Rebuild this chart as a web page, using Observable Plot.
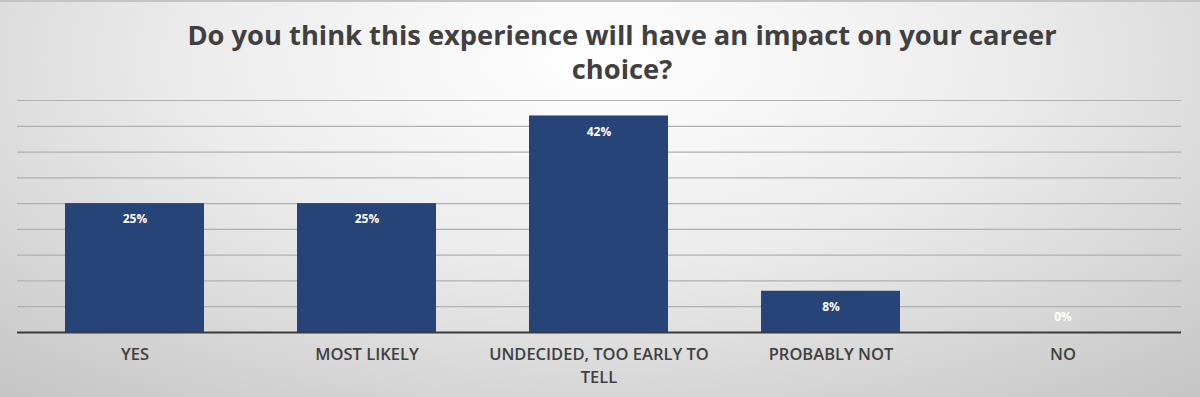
<!DOCTYPE html>
<html>
<head>
<meta charset="utf-8">
<script src="https://cdn.jsdelivr.net/npm/d3@7"></script>
<script src="https://cdn.jsdelivr.net/npm/@observablehq/plot@0.6"></script>
<style>
  html, body { margin: 0; padding: 0; }
  #wrap {
    position: relative; width: 1200px; height: 397px; overflow: hidden; box-sizing: border-box;
    border-top: 2px solid #c4c4c4;
    background: radial-gradient(ellipse 75% 110% at 50% 15%, #ffffff 0%, #ececec 45%, #d4d4d4 80%, #c6c6c6 100%);
    font-family: "Open Sans", Lato, sans-serif;
  }
  #title {
    position: absolute; left: 22px; top: 0; width: 1200px; height: 82px;
    text-align: center; color: #404040; font-weight: 700; font-size: 27.3px; line-height: 34px;
    padding-top: 16px; box-sizing: border-box;
  }
  #chart { position: absolute; left: 0; top: 82px; }
</style>
</head>
<body>
<div id="wrap">
  <div id="title">Do you think this experience will have an impact on your career<br>choice?</div>
  <div id="chart"></div>
</div>
<script>
const categories = ["YES", "MOST LIKELY", "UNDECIDED, TOO EARLY TO TELL", "PROBABLY NOT", "NO"];
const tickLabels = ["YES", "MOST LIKELY", "UNDECIDED, TOO EARLY TO\nTELL", "PROBABLY NOT", "NO"];
const values = [25, 25, 42, 8, 0];
const gridTicks = [5, 10, 15, 20, 25, 30, 35, 40, 45];

const data = categories.map((c, i) => ({category: c, value: values[i], label: values[i] + "%"}));

const chart = Plot.plot({
  width: 1200,
  height: 313,
  marginTop: 16,
  marginBottom: 65,
  marginLeft: 17,
  marginRight: 19,
  style: {background: "transparent", fontFamily: "'Open Sans', Lato, sans-serif"},
  x: {domain: categories, paddingInner: 0.4, paddingOuter: 0.2, label: null},
  y: {domain: [0, 45], axis: null},
  marks: [
    Plot.ruleY(gridTicks, {stroke: "#b0b0b0", strokeWidth: 1.2}),
    Plot.barY(data, {x: "category", y: "value", fill: "#264478"}),
    Plot.ruleY([0], {stroke: "#3a3a3a", strokeWidth: 2}),
    Plot.text(data.filter(d => d.value > 0), {x: "category", y: "value", text: "label", dy: 16, fill: "white", fontSize: 12, fontWeight: 700}),
    Plot.text(data.filter(d => d.value === 0), {x: "category", y: "value", text: "label", dy: -15, fill: "white", fontSize: 12, fontWeight: 700}),
    Plot.axisX({tickSize: 0, tickPadding: 11, fontSize: 16.5, fontWeight: 600, fill: "#404040", lineHeight: 1.4,
      tickFormat: d => tickLabels[categories.indexOf(d)], label: null})
  ]
});
document.getElementById("chart").appendChild(chart);
</script>
</body>
</html>
